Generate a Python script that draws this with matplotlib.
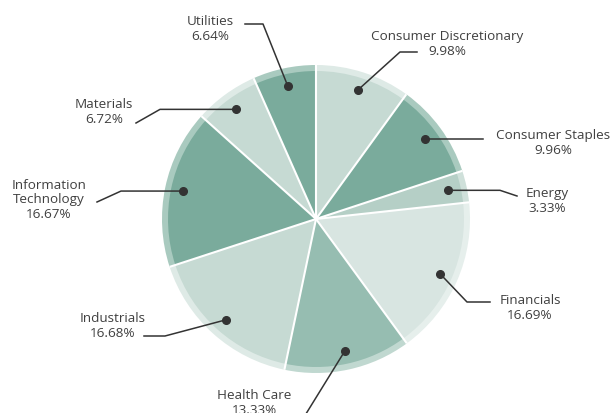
import numpy as np
import matplotlib.pyplot as plt

sectors = ["Consumer Discretionary", "Consumer Staples", "Energy", "Financials",
           "Health Care", "Industrials", "Information\nTechnology", "Materials", "Utilities"]
weights = [9.98, 9.96, 3.33, 16.69, 13.33, 16.68, 16.67, 6.72, 6.64]

slice_colors = ["#c6dad3", "#7aab9c", "#b5cfc6", "#d8e5e1", "#96bdb1",
                "#c6dad3", "#7aab9c", "#c6dad3", "#7aab9c"]
ring_colors = ["#deeae6", "#a9cabf", "#cfe0da", "#e6efec", "#c0d8d0",
               "#deeae6", "#a9cabf", "#deeae6", "#a9cabf"]

W, H = 613, 413
cx, cy = 316, H - 219
R_OUT, R_IN = 154, 148

# label layout in pixel coords (y from top): text centre, leader elbow points
# (an elbow y of None means "level with the dot")
layout = {
    "Consumer Discretionary": ((447, 44), [(400, 52), (417, 52)]),
    "Consumer Staples": ((553, 143), [(483, None)]),
    "Energy": ((547, 201), [(500, None), (517, 196)]),
    "Financials": ((530, 308), [(467, 302), (490, 302)]),
    "Health Care": ((254, 403), [(296, 430)]),
    "Industrials": ((113, 326), [(165, 336), (144, 336)]),
    "Information\nTechnology": ((49, 200), [(121, None), (97, 202)]),
    "Materials": ((104, 112), [(160, None), (136, 123)]),
    "Utilities": ((210, 29), [(263, 24), (245, 24)]),
}

fig = plt.figure(figsize=(W / 100, H / 100), dpi=100)
ax = fig.add_axes([0, 0, 1, 1])

ax.pie(weights, radius=R_OUT, center=(cx, cy), startangle=90, counterclock=False,
       colors=ring_colors, wedgeprops=dict(linewidth=0))
ax.pie(weights, radius=R_IN, center=(cx, cy), startangle=90, counterclock=False,
       colors=slice_colors, wedgeprops=dict(linewidth=0))

# white separators
cum = np.concatenate([[0], np.cumsum(weights)]) / sum(weights)
for c in cum[:-1]:
    a = np.deg2rad(90 - 360 * c)
    ax.plot([cx, cx + R_OUT * np.cos(a)], [cy, cy + R_OUT * np.sin(a)],
            color="white", lw=1.5, solid_capstyle="butt", zorder=3)

for i, name in enumerate(sectors):
    mid = (cum[i] + cum[i + 1]) / 2
    a = np.deg2rad(90 - 360 * mid)
    r = 0.88 * R_OUT
    dx, dy = cx + r * np.cos(a), cy + r * np.sin(a)
    (tx, ty), pts = layout[name]
    xs = [dx] + [p[0] for p in pts]
    ys = [dy] + [dy if p[1] is None else H - p[1] for p in pts]
    ax.plot(xs, ys, color="#333333", lw=1.1, zorder=4)
    ax.plot(dx, dy, "o", color="#333333", ms=5.5, zorder=5)
    ax.text(tx, H - ty, f"{name}\n{weights[i]:.2f}%", ha="center", va="center",
            fontsize=9.7, family="Open Sans", color="#404040", linespacing=1.18)

ax.set_xlim(0, W)
ax.set_ylim(0, H)
ax.set_aspect("equal")
ax.set_axis_off()
fig.savefig("out.png", dpi=100)
